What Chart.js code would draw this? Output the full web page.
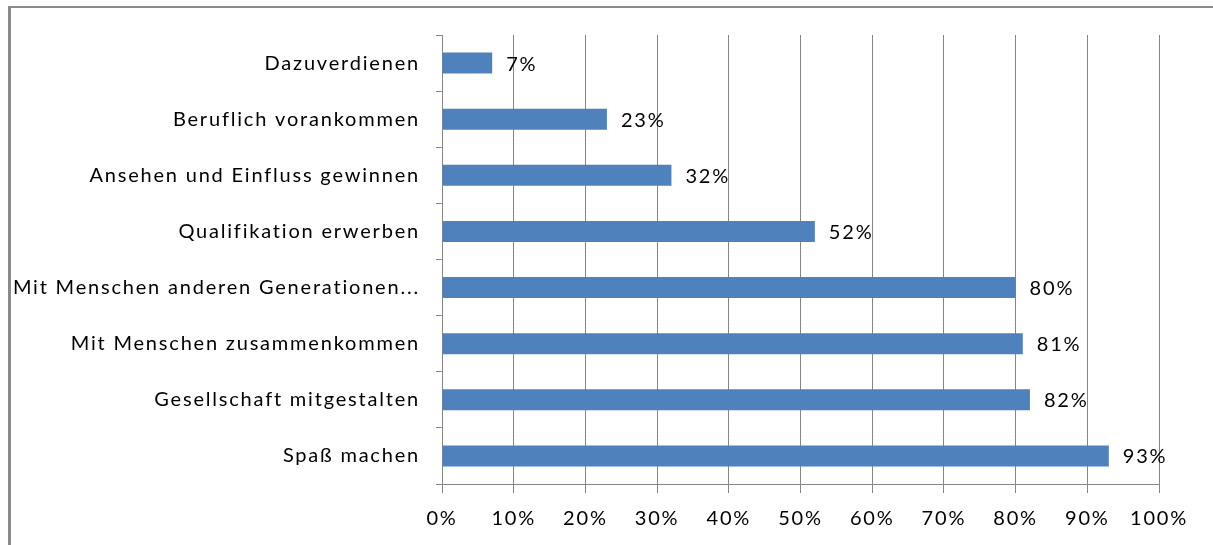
<!DOCTYPE html>
<html>
<head>
<meta charset="utf-8">
<title>Motive</title>
<script src="https://cdn.jsdelivr.net/npm/chart.js@4"></script>
<style>
  body { margin: 0; background: #fff; }
</style>
</head>
<body>
<canvas id="myChart" width="1213" height="545"></canvas>
<script>
const categories = [
  "Dazuverdienen",
  "Beruflich vorankommen",
  "Ansehen und Einfluss gewinnen",
  "Qualifikation erwerben",
  "Mit Menschen anderen Generationen...",
  "Mit Menschen zusammenkommen",
  "Gesellschaft mitgestalten",
  "Spaß machen",
];
const values = [7, 23, 32, 52, 80, 81, 82, 93];
const xTicks = [0, 10, 20, 30, 40, 50, 60, 70, 80, 90, 100];

const FONT = { family: "Lato", size: 20 };
const GRID = "#868686";

// frame lines (left + top) like the original screenshot
const framePlugin = {
  id: "frame",
  beforeDraw(chart) {
    const ctx = chart.ctx;
    ctx.save();
    ctx.fillStyle = "#8a8a8a";
    ctx.fillRect(8, 6, chart.width - 8, 2);
    ctx.fillRect(8, 6, 3, chart.height - 6);
    ctx.restore();
    // wider text, closer to the original Calibri look
    ctx.letterSpacing = "1.8px";
  },
};

// value labels right of the bars
const valueLabels = {
  id: "valueLabels",
  afterDatasetsDraw(chart) {
    const ctx = chart.ctx;
    const meta = chart.getDatasetMeta(0);
    ctx.save();
    ctx.font = FONT.size + "px " + FONT.family;
    ctx.fillStyle = "#000";
    ctx.textBaseline = "middle";
    ctx.textAlign = "left";
    meta.data.forEach((bar, i) => {
      ctx.fillText(values[i] + "%", bar.x + 14, bar.y + 1);
    });
    ctx.restore();
  },
};

const ctx = document.getElementById("myChart").getContext("2d");
const myChart = new Chart(ctx, {
  type: "bar",
  data: {
    labels: categories,
    datasets: [
      {
        label: "Anteil",
        data: values,
        backgroundColor: "#4F81BD",
        barPercentage: 0.75,
        categoryPercentage: 0.5,
      },
    ],
  },
  options: {
    indexAxis: "y",
    responsive: false,
    animation: false,
    layout: { padding: { left: 12, top: 35, right: 54, bottom: 0 } },
    plugins: {
      legend: { display: false },
      tooltip: { enabled: false },
    },
    scales: {
      x: {
        min: 0,
        max: 100,
        afterBuildTicks: (s) => {
          s.ticks = xTicks.map((v) => ({ value: v }));
        },
        ticks: {
          callback: (v) => v + "%",
          color: "#000",
          font: FONT,
          padding: 14,
          maxRotation: 0,
        },
        grid: { color: GRID, tickLength: 9 },
        border: { color: GRID },
        afterFit: (s) => {
          s.height = 61;
        },
      },
      y: {
        ticks: { color: "#000", font: FONT, padding: 16, autoSkip: false },
        grid: { color: GRID, drawOnChartArea: false, tickLength: 6, offset: true },
        border: { color: GRID },
        afterFit: (s) => {
          s.width = 430;
        },
      },
    },
  },
  plugins: [framePlugin, valueLabels],
});
</script>
</body>
</html>
